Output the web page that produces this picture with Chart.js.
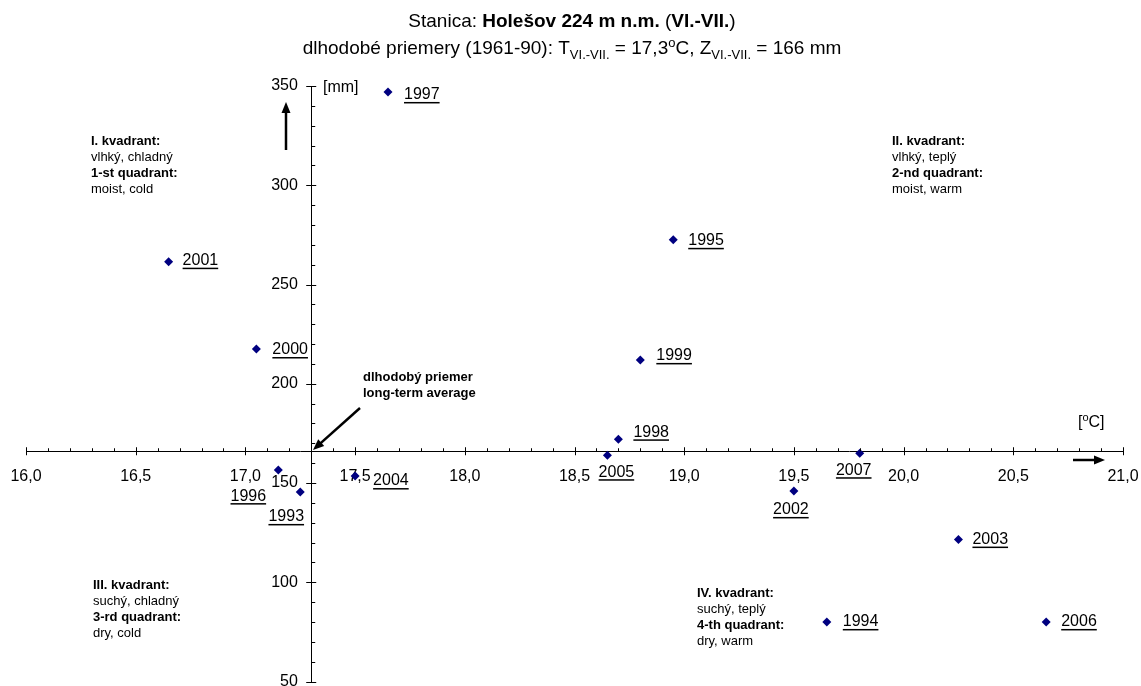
<!DOCTYPE html>
<html>
<head>
<meta charset="utf-8">
<script src="https://cdn.jsdelivr.net/npm/chart.js@4.4.0/dist/chart.umd.min.js"></script>
<style>
  html, body { margin: 0; padding: 0; background: #fff; }
  #wrap { width: 1141px; height: 686px; position: relative; }
</style>
</head>
<body>
<div id="wrap"><canvas id="chart"></canvas></div>
<script>
const years = ["1993", "1994", "1995", "1996", "1997", "1998", "1999", "2000",
  "2001", "2002", "2003", "2004", "2005", "2006", "2007"];
const temperature = [17.25, 19.65, 18.95, 17.15, 17.65, 18.70, 18.80, 17.05,
  16.65, 19.50, 20.25, 17.50, 18.65, 20.65, 19.80];
const precipitation = [145.5, 80, 272.5, 156.5, 347, 172, 212, 217.5,
  261.5, 146, 121.5, 153.5, 164, 80, 165];

// long-term averages 1961-90, the axes cross here
const avgTemperature = 17.3;
const avgPrecipitation = 166;

// where each year label sits next to its point: [dx, dy, align]
const labelPlacement = [
  [-14, 25, "center"], [16, 0, "left"], [15, 1, "left"], [-30, 26, "center"],
  [16, 3, "left"], [15, -7, "left"], [16, -4, "left"], [16, 1, "left"],
  [14, -1, "left"], [-3, 19, "center"], [14, 0, "left"], [18, 5, "left"],
  [9, 17, "center"], [15, 0, "left"], [-6, 17, "center"]
];

const quadrants = [
  { x: 91, y: 141, lines: ["I. kvadrant:", "vlhký, chladný", "1-st quadrant:", "moist, cold"] },
  { x: 892, y: 141, lines: ["II. kvadrant:", "vlhký, teplý", "2-nd quadrant:", "moist, warm"] },
  { x: 93, y: 585, lines: ["III. kvadrant:", "suchý, chladný", "3-rd quadrant:", "dry, cold"] },
  { x: 697, y: 593, lines: ["IV. kvadrant:", "suchý, teplý", "4-th quadrant:", "dry, warm"] }
];

const FONT = "'Liberation Sans', Arial, sans-serif";
Chart.defaults.font.family = FONT;
Chart.defaults.font.size = 16;
Chart.defaults.color = "#000";

function drawRich(ctx, parts, cx, y) {
  let total = 0;
  parts.forEach((p) => {
    ctx.font = p.font;
    total += ctx.measureText(p.text).width;
  });
  let x = cx - total / 2;
  ctx.textAlign = "left";
  ctx.textBaseline = "middle";
  parts.forEach((p) => {
    ctx.font = p.font;
    ctx.fillText(p.text, x, y + (p.dy || 0));
    x += ctx.measureText(p.text).width;
  });
}

function drawArrow(ctx, x1, y1, x2, y2) {
  const ang = Math.atan2(y2 - y1, x2 - x1);
  const head = 11;
  ctx.beginPath();
  ctx.moveTo(x1, y1);
  ctx.lineTo(x2 - Math.cos(ang) * head * 0.8, y2 - Math.sin(ang) * head * 0.8);
  ctx.lineWidth = 2.5;
  ctx.stroke();
  ctx.beginPath();
  ctx.moveTo(x2, y2);
  ctx.lineTo(x2 - head * Math.cos(ang) + 4.5 * Math.sin(ang), y2 - head * Math.sin(ang) - 4.5 * Math.cos(ang));
  ctx.lineTo(x2 - head * Math.cos(ang) - 4.5 * Math.sin(ang), y2 - head * Math.sin(ang) + 4.5 * Math.cos(ang));
  ctx.closePath();
  ctx.fill();
}

// centred axes should not push the plot area inwards
function noPadding(scale) {
  scale.paddingLeft = 0;
  scale.paddingRight = 0;
  scale.paddingTop = 0;
  scale.paddingBottom = 0;
}

const decorations = {
  id: "decorations",
  afterDraw(chart) {
    const ctx = chart.ctx;
    const xs = chart.scales.x;
    const ys = chart.scales.y;
    const ax = xs.getPixelForValue(avgTemperature);
    const ay = ys.getPixelForValue(avgPrecipitation);

    ctx.save();
    ctx.strokeStyle = "#000";
    ctx.fillStyle = "#000";
    ctx.lineWidth = 1;

    // tick marks on the temperature axis
    ctx.beginPath();
    for (let i = 0; i <= 50; i++) {
      const px = Math.round(xs.getPixelForValue(16 + i * 0.1)) + 0.5;
      if (i % 5 === 0) {
        ctx.moveTo(px, ay - 4);
        ctx.lineTo(px, ay + 4);
      } else {
        ctx.moveTo(px, ay - 3);
        ctx.lineTo(px, ay);
      }
    }
    // tick marks on the precipitation axis
    for (let i = 0; i <= 30; i++) {
      const py = Math.round(ys.getPixelForValue(50 + i * 10)) + 0.5;
      if (i % 5 === 0) {
        ctx.moveTo(ax - 5, py);
        ctx.lineTo(ax + 5, py);
      } else {
        ctx.moveTo(ax, py);
        ctx.lineTo(ax + 4, py);
      }
    }
    ctx.stroke();

    // title
    const reg = "16px " + FONT;
    const small = "11px " + FONT;
    const treg = "19px " + FONT;
    const tbold = "bold 19px " + FONT;
    const tsmall = "13px " + FONT;
    drawRich(ctx, [
      { text: "Stanica: ", font: treg },
      { text: "Holešov 224 m n.m.", font: tbold },
      { text: " (", font: treg },
      { text: "VI.-VII.", font: tbold },
      { text: ")", font: treg }
    ], 572, 22);
    drawRich(ctx, [
      { text: "dlhodobé priemery (1961-90): T", font: treg },
      { text: "VI.-VII.", font: tsmall, dy: 6 },
      { text: " = 17,3", font: treg },
      { text: "o", font: tsmall, dy: -6 },
      { text: "C, Z", font: treg },
      { text: "VI.-VII.", font: tsmall, dy: 6 },
      { text: " = 166 mm", font: treg }
    ], 572, 49);

    // axis units
    ctx.font = reg;
    ctx.textAlign = "left";
    ctx.textBaseline = "middle";
    ctx.fillText("[mm]", 323, 88);
    let ux = 1078;
    ctx.fillText("[", ux, 423);
    ux += ctx.measureText("[").width;
    ctx.font = small;
    ctx.fillText("o", ux, 418);
    ux += ctx.measureText("o").width;
    ctx.font = reg;
    ctx.fillText("C]", ux, 423);

    // arrows
    drawArrow(ctx, 286, 150, 286, 102);
    drawArrow(ctx, 1073, 460, 1105, 460);
    drawArrow(ctx, 360, 408, 313, 450);

    // long-term average note
    ctx.font = "bold 13px " + FONT;
    ctx.fillText("dlhodobý priemer", 363, 377);
    ctx.fillText("long-term average", 363, 393);

    // quadrant descriptions
    quadrants.forEach((q) => {
      q.lines.forEach((line, i) => {
        ctx.font = (i % 2 === 0 ? "bold " : "") + "13px " + FONT;
        ctx.fillText(line, q.x, q.y + i * 16);
      });
    });

    // year labels, underlined
    ctx.font = reg;
    years.forEach((year, i) => {
      const [dx, dy, align] = labelPlacement[i];
      const px = xs.getPixelForValue(temperature[i]) + dx;
      const py = ys.getPixelForValue(precipitation[i]) + dy;
      ctx.textAlign = align;
      ctx.fillText(year, px, py);
      const w = ctx.measureText(year).width;
      const left = align === "center" ? px - w / 2 : px;
      ctx.fillRect(left, py + 7, w, 1.5);
    });

    ctx.restore();
  }
};

new Chart(document.getElementById("chart"), {
  type: "scatter",
  data: {
    datasets: [{
      label: "Holešov",
      data: years.map((y, i) => ({ x: temperature[i], y: precipitation[i] })),
      pointStyle: "rectRot",
      pointRadius: 4.5,
      pointBackgroundColor: "#000080",
      pointBorderColor: "#000080",
      pointBorderWidth: 0
    }]
  },
  options: {
    responsive: true,
    maintainAspectRatio: false,
    animation: false,
    layout: { padding: { left: 26, right: 18, top: 86, bottom: 4 } },
    plugins: {
      legend: { display: false },
      title: { display: false },
      tooltip: { enabled: false }
    },
    scales: {
      x: {
        type: "linear",
        min: 16,
        max: 21,
        position: { y: avgPrecipitation },
        afterFit: noPadding,
        ticks: {
          stepSize: 0.5,
          padding: 16,
          autoSkip: false,
          maxRotation: 0,
          callback: (v) => v.toFixed(1).replace(".", ",")
        },
        grid: { drawOnChartArea: false, drawTicks: false },
        border: { color: "#000", width: 1 }
      },
      y: {
        type: "linear",
        min: 50,
        max: 350,
        position: { x: avgTemperature },
        afterFit: noPadding,
        ticks: { stepSize: 50, autoSkip: false, callback: (v) => v + "   " },
        grid: { drawOnChartArea: false, drawTicks: false },
        border: { color: "#000", width: 1 }
      }
    }
  },
  plugins: [decorations]
});
</script>
</body>
</html>
